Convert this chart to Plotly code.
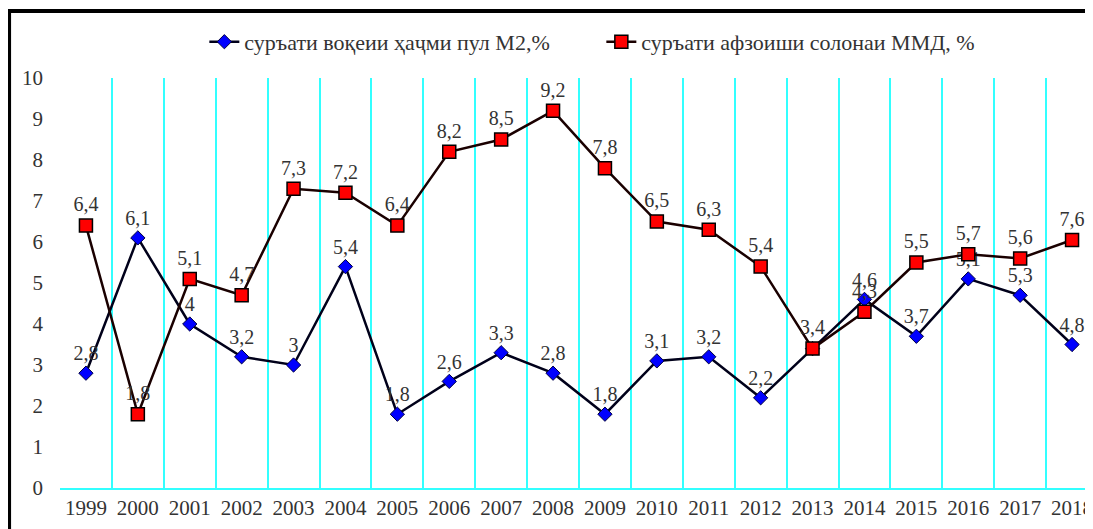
import plotly.graph_objects as go

years = [str(y) for y in range(1999, 2019)]

# суръати воқеии ҳаҷми пул М2,% (plotted positions)
m2_values = [2.8, 6.1, 4.0, 3.2, 3.0, 5.4, 1.8, 2.6, 3.3, 2.8, 1.8, 3.1, 3.2, 2.2, 3.4, 4.6, 3.7, 5.1, 4.7, 3.5]
# 2013 label is shared with the other series (same value, single label shown)
m2_labels = ["2,8", "6,1", "4", "3,2", "3", "5,4", "1,8", "2,6", "3,3", "2,8", "1,8", "3,1", "3,2", "2,2", "", "4,6", "3,7", "5,1", "5,3", "4,8"]

# суръати афзоиши солонаи ММД, %
gdp_values = [6.4, 1.8, 5.1, 4.7, 7.3, 7.2, 6.4, 8.2, 8.5, 9.2, 7.8, 6.5, 6.3, 5.4, 3.4, 4.3, 5.5, 5.7, 5.6, 6.05]
gdp_labels = ["6,4", "1,8", "5,1", "4,7", "7,3", "7,2", "6,4", "8,2", "8,5", "9,2", "7,8", "6,5", "6,3", "5,4", "3,4", "4,3", "5,5", "5,7", "5,6", "7,6"]

y_ticks = list(range(0, 11))

FONT = "Liberation Serif"
TXT = "#333333"

fig = go.Figure()
fig.add_trace(go.Scatter(
    x=years, y=m2_values, mode="lines+markers+text",
    name="суръати воқеии ҳаҷми пул М2,%",
    text=m2_labels, textposition="top center",
    textfont=dict(family=FONT, size=20, color=TXT),
    line=dict(color="#00001a", width=2.5),
    marker=dict(symbol="diamond", size=11, color="#0000ff",
                line=dict(color="#000040", width=1)),
    cliponaxis=False,
))
fig.add_trace(go.Scatter(
    x=years, y=gdp_values, mode="lines+markers+text",
    name="суръати афзоиши солонаи ММД, %",
    text=gdp_labels, textposition="top center",
    textfont=dict(family=FONT, size=20, color=TXT),
    line=dict(color="#1a0000", width=2.5),
    marker=dict(symbol="square", size=13, color="#ff0000",
                line=dict(color="#000000", width=1.5)),
    cliponaxis=False,
))

fig.update_layout(
    width=1085, height=521,
    margin=dict(l=52, r=0, t=70, b=41),
    paper_bgcolor="white", plot_bgcolor="white",
    font=dict(family=FONT, size=20, color=TXT),
    showlegend=True,
    legend=dict(orientation="h", x=0.14, xanchor="left", y=1.088, yanchor="middle",
                font=dict(family=FONT, size=22, color=TXT),
                bgcolor="rgba(0,0,0,0)", entrywidth=352),
    xaxis=dict(type="category", tickson="boundaries", range=[-0.5, 19.365],
               showgrid=True, gridcolor="#33ffff", gridwidth=1.5,
               showline=True, linecolor="#33ffff", linewidth=1.5,
               ticks="outside", ticklen=8, tickcolor="rgba(0,0,0,0)",
               tickfont=dict(family=FONT, size=21, color=TXT), zeroline=False),
    yaxis=dict(range=[0, 10], tickvals=y_ticks, showgrid=False, zeroline=False,
               showline=False, ticks="", ticklabelstandoff=16,
               tickfont=dict(family=FONT, size=21, color=TXT)),
    shapes=[dict(type="rect", xref="paper", yref="paper",
                 x0=-0.0494, x1=1.2, y0=-0.3, y1=1.1634,
                 line=dict(color="black", width=4), layer="above")],
)

fig.write_html("out.html")
